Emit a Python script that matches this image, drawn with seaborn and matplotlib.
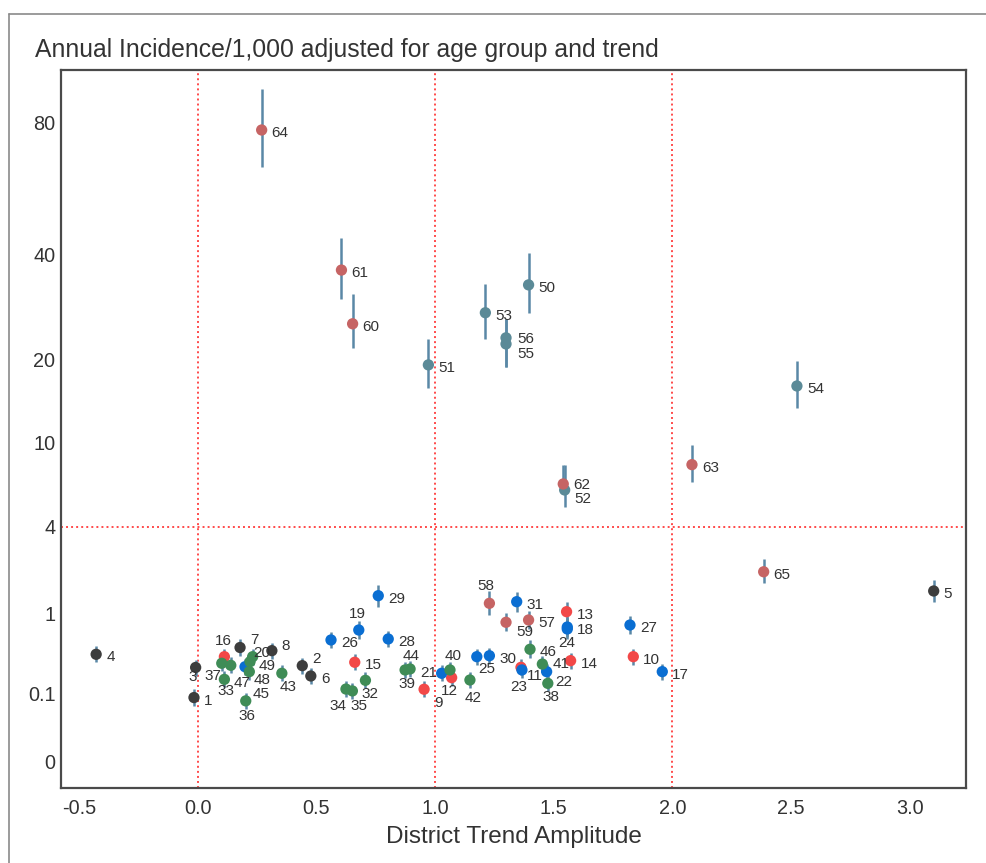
import numpy as np
import pandas as pd
import matplotlib
matplotlib.use("Agg")
import matplotlib.pyplot as plt
import seaborn as sns
from matplotlib.lines import Line2D

# ---------------- data ----------------
district = list(range(1, 66))
trend = [-0.015, 0.441, -0.008, -0.427, 3.100, 0.477, 0.179, 0.313,
         0.954, 1.835, 1.362, 1.070, 1.554, 1.571, 0.662, 0.113,
         1.957, 1.557, 0.679, 0.200, 1.028, 1.470, 1.366, 1.557, 1.176,
         0.562, 1.821, 0.803, 0.761, 1.229, 1.344,
         0.707, 0.113, 0.625, 0.652, 0.203, 0.102, 1.475, 0.874, 1.063,
         1.452, 1.147, 0.355, 0.895, 0.218, 1.400, 0.140, 0.221, 0.232,
         1.394, 0.972, 1.546, 1.212, 2.524, 1.299, 1.299,
         1.394, 1.229, 1.299, 0.653, 0.606, 1.540, 2.082, 0.270, 2.384]
incidence = [0.082, 0.274, 0.259, 0.383, 1.533, 0.195, 0.460, 0.423,
             0.118, 0.358, 0.260, 0.184, 1.041, 0.319, 0.304, 0.358,
             0.226, 0.754, 0.705, 0.265, 0.214, 0.226, 0.239, 0.721, 0.358,
             0.557, 0.788, 0.571, 1.410, 0.368, 1.263,
             0.167, 0.173, 0.119, 0.110, 0.070, 0.295, 0.149, 0.239, 0.239,
             0.288, 0.169, 0.214, 0.247, 0.226, 0.439, 0.277, 0.309, 0.358,
             33.3, 19.2, 6.17, 27.8, 16.3, 22.4, 23.4,
             0.878, 1.225, 0.836, 25.8, 36.5, 6.59, 8.06, 77.4, 2.11]
ci_low = [0.055, 0.211, 0.198, 0.304, 1.263, 0.146, 0.370, 0.338,
          0.083, 0.282, 0.200, 0.136, 0.847, 0.249, 0.236, 0.282,
          0.171, 0.598, 0.570, 0.204, 0.161, 0.171, 0.181, 0.571, 0.282,
          0.454, 0.643, 0.466, 1.148, 0.291, 1.041,
          0.123, 0.128, 0.084, 0.077, 0.046, 0.229, 0.108, 0.181, 0.181,
          0.224, 0.124, 0.161, 0.188, 0.171, 0.342, 0.214, 0.241, 0.282,
          27.8, 16.0, 5.10, 23.2, 13.6, 18.9, 18.9,
          0.721, 0.968, 0.685, 21.7, 30.4, 6.00, 6.71, 64.5, 1.77]
ci_high = [0.117, 0.347, 0.330, 0.475, 1.848, 0.255, 0.564, 0.521,
           0.161, 0.446, 0.332, 0.241, 1.263, 0.400, 0.383, 0.446,
           0.291, 0.934, 0.859, 0.338, 0.277, 0.291, 0.306, 0.897, 0.446,
           0.674, 0.955, 0.689, 1.709, 0.458, 1.515,
           0.221, 0.229, 0.163, 0.151, 0.101, 0.373, 0.200, 0.306, 0.306,
           0.366, 0.224, 0.277, 0.316, 0.291, 0.553, 0.352, 0.389, 0.446,
           40.5, 23.2, 8.01, 33.5, 19.7, 26.6, 26.6,
           1.056, 1.525, 1.008, 31.4, 44.2, 8.00, 9.77, 93.3, 2.55]
group = (["g1"] * 8 + ["g2"] * 8 + ["g3"] * 15 + ["g4"] * 18
         + ["g5"] * 7 + ["g6"] * 9)

x_ticks = [-0.5, 0.0, 0.5, 1.0, 1.5, 2.0, 2.5, 3.0]
x_ticklabels = ["-0.5", "0.0", "0.5", "1.0", "1.5", "2.0", "2.5", "3.0"]
y_ticks = [0, 0.1, 1, 4, 10, 20, 40, 80]
y_ticklabels = ["0", "0.1", "1", "4", "10", "20", "40", "80"]
ref_x = [0, 1, 2]
ref_y = [4]

palette = {"g1": "#3d3d3d", "g2": "#f24848", "g3": "#0a6ed2",
           "g4": "#3f8c56", "g5": "#5b8a97", "g6": "#c66464"}

# label placement (pixels: dx right, dy down, alignment); default right of point
label_pos = {2: (10, -7, "left"), 3: (-3, 10, "center"), 7: (10, -8, "left"),
             8: (10, -5, "left"), 16: (-1, -16, "center"), 19: (-1, -16, "center"),
             32: (5, 14, "center"), 34: (-8, 17, "center"), 35: (7, 15, "center"),
             36: (1, 15, "center"), 33: (2, 12, "center"), 37: (-9, 13, "center"),
             47: (11, 18, "center"), 49: (14, 9, "center"), 48: (12, 18, "center"),
             45: (12, 22, "center"), 20: (17, -14, "center"), 43: (6, 14, "center"),
             44: (1, -13, "center"), 39: (2, 14, "center"), 9: (14, 14, "center"),
             21: (-4, 0, "right"), 40: (3, -14, "center"), 12: (-2, 13, "center"),
             42: (3, 18, "center"), 25: (10, 12, "center"), 58: (-4, -17, "center"),
             59: (19, 10, "center"), 24: (-1, 14, "center"), 11: (6, 9, "left"),
             23: (-3, 17, "center"), 22: (9, 10, "left"), 41: (10, 0, "left"),
             38: (3, 14, "center"),
             52: (10, 9, "left"), 62: (10, 1, "left"),
             55: (11, 10, "left"), 56: (11, 1, "left")}

df = pd.DataFrame({"district": district, "trend": trend, "inc": incidence,
                   "lo": ci_low, "hi": ci_high, "group": group})

# ---------------- figure ----------------
sns.set_theme(style="white")
plt.rcParams["font.family"] = ["Liberation Sans", "DejaVu Sans"]
txt = "#333333"

fig = plt.figure(figsize=(9.87, 8.63), dpi=100)
ax = fig.add_axes([61 / 987, 1 - 788 / 863, (966 - 61) / 987, (788 - 70) / 863])
ax.set_yscale("function", functions=(np.cbrt, lambda v: np.power(v, 3)))

for xv in ref_x:
    ax.axvline(xv, color="#ff4a4a", ls=(0, (1, 1.6)), lw=1.4, zorder=1)
for yv in ref_y:
    ax.axhline(yv, color="#ff4a4a", ls=(0, (1, 1.6)), lw=1.4, zorder=1)

ax.vlines(df["trend"], df["lo"], df["hi"], color="#5a88a6", lw=1.8, zorder=2)
sns.scatterplot(data=df, x="trend", y="inc", hue="group", palette=palette,
                s=66, edgecolor="none", legend=False, ax=ax, zorder=3)

for n, xv, yv in zip(df["district"], df["trend"], df["inc"]):
    dx, dy, ha = label_pos.get(n, (10, 3, "left"))
    ax.annotate(str(n), (xv, yv), xytext=(dx, -dy), textcoords="offset pixels",
                ha=ha, va="center", fontsize=11, color=txt, zorder=5)

ax.set_xlim(-0.575, 3.236)
ax.set_ylim(-0.0054, 101.6)
ax.set_xticks(x_ticks)
ax.set_xticklabels(x_ticklabels)
ax.set_yticks(y_ticks)
ax.set_yticklabels(y_ticklabels)
ax.minorticks_off()
ax.tick_params(direction="in", length=6, width=1.2, color="#444444",
               labelsize=14.3, labelcolor=txt, pad=4)
ax.tick_params(axis="x", pad=8)
for sp in ax.spines.values():
    sp.set_color("#4a4a4a")
    sp.set_linewidth(1.6)
ax.set_xlabel("District Trend Amplitude", fontsize=17.5, color=txt, labelpad=6)
ax.set_ylabel("")

fig.text(35 / 987, 1 - 50 / 863, "Annual Incidence/1,000 adjusted for age group and trend",
         fontsize=17.8, color=txt, ha="left", va="center")

# outer frame lines of the original figure
fig.add_artist(Line2D([9 / 987, 1.0], [1 - 14 / 863, 1 - 14 / 863],
                      transform=fig.transFigure, color="#8a8a8a", lw=1.2))
fig.add_artist(Line2D([9 / 987, 9 / 987], [1 - 14 / 863, 0.0],
                      transform=fig.transFigure, color="#8a8a8a", lw=1.2))

fig.savefig("out.png", dpi=100)
